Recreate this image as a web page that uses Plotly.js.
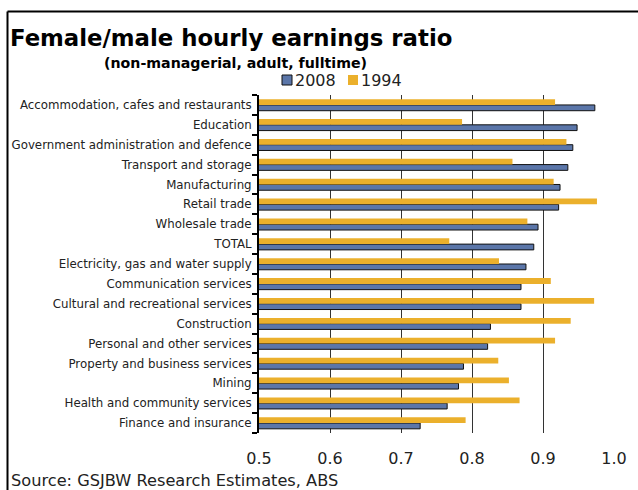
<!DOCTYPE html>
<html>
<head>
<meta charset="utf-8">
<script src="https://cdn.plot.ly/plotly-3.0.1.min.js"></script>
<style>html,body{margin:0;padding:0;background:#fff;}#chart{width:638px;height:490px;}</style>
</head>
<body>
<div id="chart"></div>
<script>
// Categories listed top to bottom
const categories = [
  "Accommodation, cafes and restaurants",
  "Education",
  "Government administration and defence",
  "Transport and storage",
  "Manufacturing",
  "Retail trade",
  "Wholesale trade",
  "TOTAL",
  "Electricity, gas and water supply",
  "Communication services",
  "Cultural and recreational services",
  "Construction",
  "Personal and other services",
  "Property and business services",
  "Mining",
  "Health and community services",
  "Finance and insurance"
];
const values2008 = [0.973, 0.948, 0.942, 0.935, 0.924, 0.922, 0.893, 0.887, 0.876, 0.869, 0.869, 0.826, 0.822, 0.788, 0.781, 0.765, 0.727];
const values1994 = [0.917, 0.786, 0.933, 0.857, 0.915, 0.976, 0.878, 0.768, 0.838, 0.911, 0.972, 0.939, 0.917, 0.837, 0.852, 0.867, 0.791];
const xTickValues = [0.5, 0.6, 0.7, 0.8, 0.9, 1.0];
const xTickLabels = ["0.5", "0.6", "0.7", "0.8", "0.9", "1.0"];

const BLUE = "#5b76a9";
const ORANGE = "#ebb02c";
const FONT = "DejaVu Sans, Verdana, sans-serif";

// plot area geometry in pixels
const L = 259, R = 24, T = 95, B = 57, W = 638, H = 490;
const pw = W - L - R, ph = H - T - B;
const px = v => (v - L) / pw;
const py = v => (H - B - v) / ph;

const traces = [
  {
    type: "bar", orientation: "h", name: "2008",
    y: categories, x: values2008,
    marker: {color: BLUE, line: {color: "#111", width: 1}},
    hoverinfo: "x+y"
  },
  {
    type: "bar", orientation: "h", name: "1994",
    y: categories, x: values1994,
    marker: {color: ORANGE, line: {width: 0}},
    hoverinfo: "x+y"
  }
];

const layout = {
  width: W, height: H,
  margin: {l: L, r: R, t: T, b: B, pad: 0},
  paper_bgcolor: "#fff", plot_bgcolor: "#fff",
  font: {family: FONT, color: "#222"},
  showlegend: false,
  barmode: "group",
  bargap: 0.42,
  bargroupgap: 0,
  title: {
    text: "<b>Female/male hourly earnings ratio</b>",
    font: {family: FONT, size: 22.8, color: "#000"},
    x: 10 / W, xref: "container", xanchor: "left",
    y: 1 - 38 / H, yref: "container", yanchor: "middle"
  },
  xaxis: {
    range: [0.5, 1.0],
    tickmode: "array", tickvals: xTickValues, ticktext: xTickLabels,
    showgrid: true, gridcolor: "#333", gridwidth: 1,
    zeroline: false, showline: false,
    ticks: "", ticklabelstandoff: 14,
    tickfont: {family: FONT, size: 16, color: "#222"},
    fixedrange: true
  },
  yaxis: {
    type: "category",
    categoryorder: "array", categoryarray: categories.slice().reverse(),
    showline: true, linecolor: "#000", linewidth: 2,
    ticks: "outside", tickson: "boundaries", ticklen: 5, tickwidth: 2, tickcolor: "#000",
    showgrid: false, zeroline: false,
    tickfont: {family: FONT, size: 11.8, color: "#222"},
    ticklabelstandoff: 3,
    fixedrange: true
  },
  shapes: [
    // frame (top and left)
    {type: "line", xref: "paper", yref: "paper", x0: px(7.5), x1: px(640), y0: py(11.5), y1: py(11.5), line: {color: "#000", width: 2}},
    {type: "line", xref: "paper", yref: "paper", x0: px(7.5), x1: px(7.5), y0: py(11.5), y1: py(492), line: {color: "#000", width: 2}},
    // legend swatches
    {type: "rect", xref: "paper", yref: "paper", x0: px(282), x1: px(292), y0: py(85), y1: py(75), fillcolor: BLUE, line: {color: "#111", width: 1}},
    {type: "rect", xref: "paper", yref: "paper", x0: px(348), x1: px(358), y0: py(85), y1: py(75), fillcolor: ORANGE, line: {width: 0}}
  ],
  annotations: [
    {text: "<b>(non-managerial, adult, fulltime)</b>", xref: "paper", yref: "paper",
     x: px(235), y: py(63), xanchor: "center", yanchor: "middle", showarrow: false,
     font: {family: FONT, size: 14.2, color: "#000"}},
    {text: "2008", xref: "paper", yref: "paper", x: px(293), y: py(80), xanchor: "left", yanchor: "middle",
     showarrow: false, font: {family: FONT, size: 16, color: "#222"}},
    {text: "1994", xref: "paper", yref: "paper", x: px(359), y: py(80), xanchor: "left", yanchor: "middle",
     showarrow: false, font: {family: FONT, size: 16, color: "#222"}},
    {text: "Source: GSJBW Research Estimates, ABS", xref: "paper", yref: "paper",
     x: px(9), y: py(480), xanchor: "left", yanchor: "middle", showarrow: false,
     font: {family: FONT, size: 16.2, color: "#222"}}
  ]
};

Plotly.newPlot("chart", traces, layout, {displayModeBar: false, staticPlot: true});
</script>
</body>
</html>
